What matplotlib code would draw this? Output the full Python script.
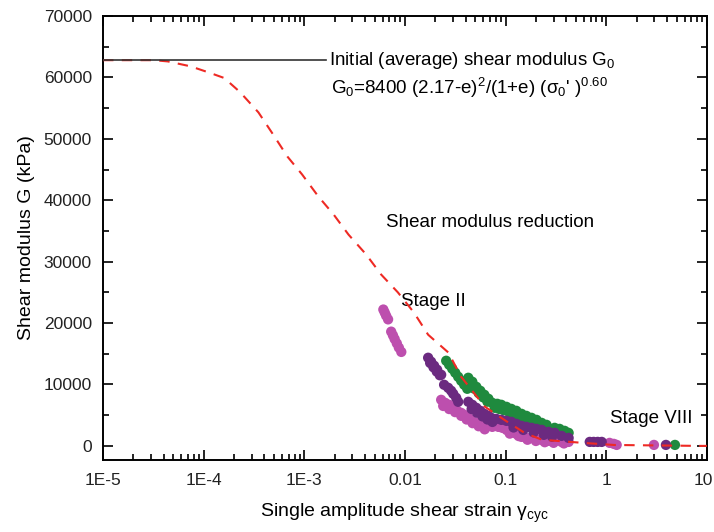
import numpy as np
import matplotlib
matplotlib.use('Agg')
import matplotlib.pyplot as plt
import matplotlib.transforms as mtransforms
from matplotlib.ticker import LogLocator, MultipleLocator, FixedLocator, NullFormatter

plt.rcParams['font.family'] = ['Liberation Sans', 'DejaVu Sans']
plt.rcParams['mathtext.fontset'] = 'custom'
plt.rcParams['mathtext.rm'] = 'Liberation Sans'
plt.rcParams['mathtext.it'] = 'Liberation Sans:italic'

# fitted reduction curve (red dashed)
curve_gamma = [1e-5, 1.9e-5, 3.2e-5, 4.4e-5, 7.4e-5, 1.1e-4, 1.6e-4, 2.3e-4, 3.5e-4,
               4.9e-4, 6.8e-4, 9.5e-4, 1.38e-3, 1.95e-3, 2.75e-3, 4.1e-3, 5.8e-3,
               8.5e-3, 0.0123, 0.017, 0.027, 0.036, 0.062, 0.098, 0.155, 0.23,
               0.58, 1.2, 8.3, 10]
curve_G = [62800, 62800, 62800, 62600, 61800, 60850, 59900, 57600, 54300,
           50700, 47100, 44200, 40600, 37700, 34400, 31200, 27900,
           25000, 21700, 18100, 15200, 11300, 6400, 4200, 2100, 1000,
           500, 150, 0, 0]

# light magenta points
mag_gamma = [0.0061, 0.0063, 0.0065, 0.0068, 0.0073, 0.0076, 0.0079, 0.0083, 0.0087, 0.0092,
             0.0229, 0.0251, 0.0275, 0.0302, 0.0331, 0.0362, 0.0388, 0.0426, 0.0456, 0.0512,
             0.0574, 0.0644, 0.0738, 0.0847, 0.0929, 0.102, 0.114, 0.128, 0.144, 0.161,
             0.181, 0.203, 0.228, 0.267, 0.307, 0.360, 0.423,
             0.0240, 0.0275, 0.0315, 0.0362, 0.0410, 0.0470, 0.0540, 0.0620,
             0.110, 0.135, 0.165, 0.200, 0.245, 0.300, 0.380,
             1.08, 1.19, 1.27, 2.98]
mag_G = [22200, 21700, 21200, 20600, 18600, 18000, 17400, 16700, 16000, 15300,
         7500, 7010, 6690, 6200, 5710, 5380, 5060, 4570, 4240, 3750,
         3430, 3100, 3100, 3100, 2940, 2610, 2280, 1960, 1470, 1300,
         1300, 1140, 980, 820, 820, 650, 650,
         6500, 6000, 5500, 4900, 4300, 3700, 3200, 2700,
         2000, 1600, 1000, 800, 600, 500, 400,
         490, 330, 160, 160]

# dark purple points
pur_gamma = [0.0170, 0.0182, 0.0195, 0.0209, 0.0229, 0.0245, 0.0269, 0.0288, 0.0302, 0.0323,
             0.0338, 0.0426, 0.0467, 0.0512, 0.0561, 0.0615, 0.0675, 0.0721, 0.0809, 0.0908,
             0.102, 0.114, 0.128, 0.144, 0.161, 0.181, 0.203, 0.228, 0.267, 0.307,
             0.360, 0.423,
             0.0178, 0.0192, 0.0207, 0.0222, 0.0460, 0.0520, 0.0590, 0.0660, 0.0740,
             0.120, 0.150, 0.190, 0.240, 0.290,
             0.686, 0.750, 0.822, 0.902, 3.92]
pur_G = [14350, 13700, 13050, 12400, 11580, 9950, 9460, 8970, 8480, 7830,
         7180, 7180, 6690, 6200, 5710, 5220, 4890, 4570, 4400, 4240,
         4080, 3910, 3590, 3260, 3100, 2940, 2770, 2610, 2280, 2120,
         1630, 1300,
         13500, 12800, 12100, 11500, 6000, 5400, 4800, 4300, 3900,
         3000, 2600, 2200, 1800, 1500,
         650, 650, 650, 650, 160]

# green points
grn_gamma = [0.0257, 0.0275, 0.0295, 0.0316, 0.0338, 0.0362, 0.0388, 0.0416,
             0.0426, 0.0467, 0.0512, 0.0561, 0.0615, 0.0675, 0.0738,
             0.0828, 0.0908, 0.102, 0.114, 0.128, 0.144, 0.161, 0.181, 0.203, 0.228, 0.255,
             0.307, 0.344, 0.386, 0.423,
             0.0450, 0.0490, 0.0540, 0.0600, 0.0660, 0.0780, 0.0870, 0.0960,
             0.108, 0.121, 0.136, 0.152, 0.172, 0.193, 0.215, 0.240, 0.320, 0.365,
             4.82]
grn_G = [13860, 13210, 12560, 11910, 11250, 10600, 9950, 9300,
         11090, 10440, 9620, 8970, 8320, 7670, 7010,
         6850, 6690, 6360, 6030, 5710, 5220, 4890, 4570, 4240, 3750, 3430,
         2940, 2770, 2450, 2120,
         10000, 9300, 8600, 7900, 7200, 6200, 6000, 5800,
         5500, 5200, 4800, 4400, 4000, 3600, 3300, 3000, 2300, 2000,
         160]

x_ticks = [1e-5, 1e-4, 1e-3, 1e-2, 1e-1, 1, 10]
x_labels = ['1E-5', '1E-4', '1E-3', '0.01', '0.1', '1', '10']
y_ticks = [0, 10000, 20000, 30000, 40000, 50000, 60000, 70000]

fig = plt.figure(figsize=(7.14, 5.32), dpi=100)
ax = fig.add_axes([0.1443, 0.1353, 0.8457, 0.8347])

ms = 55
ax.scatter(mag_gamma, mag_G, s=ms, color='#bd4fae', edgecolors='none', zorder=2)
ax.scatter(pur_gamma, pur_G, s=ms, color='#6b2a80', edgecolors='none', zorder=3)
ax.scatter(grn_gamma, grn_G, s=ms, color='#1f8a3e', edgecolors='none', zorder=2.5)
ax.plot(curve_gamma, curve_G, color='#ee2a24', lw=1.5, dashes=(5, 4), zorder=4)
ax.plot([1e-5, 1.63e-3], [62800, 62800], color='#333333', lw=1.2, zorder=4)

ax.set_xscale('log')
ax.set_xlim(1e-5, 10)
ax.set_ylim(-2300, 70000)
ax.xaxis.set_major_locator(FixedLocator(x_ticks))
ax.set_xticklabels(x_labels)
ax.xaxis.set_minor_locator(LogLocator(base=10, subs=np.arange(2, 10), numticks=20))
ax.xaxis.set_minor_formatter(NullFormatter())
ax.set_yticks(y_ticks)
ax.yaxis.set_minor_locator(MultipleLocator(5000))

ax.tick_params(which='both', direction='in', top=True, right=True, width=1.2,
               labelsize=12.5, labelcolor='#222222')
ax.tick_params(which='major', length=7, pad=8)
ax.tick_params(axis='x', which='major', pad=9)
ax.tick_params(which='minor', length=4)
for s in ax.spines.values():
    s.set_linewidth(1.4)

# nudge the last x label so it stays inside the figure
last = ax.get_xticklabels()[-1]
last.set_transform(last.get_transform() + mtransforms.ScaledTranslation(-4 / 100, 0, fig.dpi_scale_trans))

ax.set_xlabel(r'Single amplitude shear strain $\mathregular{\gamma_{cyc}}$', fontsize=14, labelpad=10)
ax.set_ylabel('Shear modulus G (kPa)', fontsize=14, labelpad=6)

ax.text(1.75e-3, 62800, r'Initial (average) shear modulus $\mathregular{G_0}$', fontsize=13.5, va='center')
ax.text(1.85e-3, 58300, r"$\mathregular{G_0}$=8400 (2.17-e$\mathregular{)^2}$/(1+e) ($\mathregular{\sigma_0}$' $\mathregular{)^{0.60}}$",
        fontsize=13.5, va='center')
ax.text(6.5e-3, 36400, 'Shear modulus reduction', fontsize=13.5, va='center')
ax.text(9.1e-3, 23500, 'Stage II', fontsize=13.5, va='center')
ax.text(1.1, 4400, 'Stage VIII', fontsize=13.5, va='center', clip_on=True)

fig.savefig('out.png', dpi=100)
